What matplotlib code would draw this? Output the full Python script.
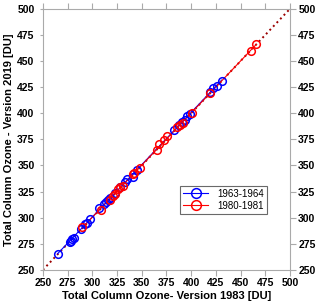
import numpy as np
import matplotlib.pyplot as plt

plt.rcParams['font.family'] = ['Liberation Sans', 'DejaVu Sans']

# 1963-1964 (blue): version 1983 vs version 2019
x_6364 = [265, 277, 278, 279, 281, 289, 293, 295, 298, 307, 312, 314, 316, 318, 323,
          328, 333, 335, 341, 345, 383, 388, 391, 394, 396, 399, 419, 422, 426, 431]
y_6364 = [265, 277, 278, 280, 281, 289, 294, 295, 299, 309, 313, 315, 317, 319, 324,
          329, 334, 337, 339, 346, 384, 389, 392, 394, 397, 399, 420, 424, 426, 431]

# 1980-1981 (red)
x_8081 = [290, 309, 318, 321, 323, 326, 328, 331, 341, 342, 348, 365, 368, 373, 376,
          386, 389, 392, 401, 419, 461, 466]
y_8081 = [291, 307, 317, 321, 323, 327, 329, 330, 342, 343, 348, 365, 371, 374, 378,
          387, 389, 391, 400, 419, 460, 466]

ticks = [250, 275, 300, 325, 350, 375, 400, 425, 450, 475, 500]

fig = plt.figure(figsize=(3.2, 3.06), dpi=100)
ax = fig.add_axes([0.134, 0.118, 0.772, 0.853])

# 1:1 line
ax.plot([250, 500], [250, 500], color='#9b0000', ls=':', lw=1.4, zorder=1)

for xs, ys, col, lab in [(x_6364, y_6364, 'blue', '1963-1964'),
                         (x_8081, y_8081, 'red', '1980-1981')]:
    xs = np.array(xs)
    ys = np.array(ys)
    k, b = np.polyfit(xs, ys, 1)
    xl = np.array([xs.min(), xs.max()])
    ax.plot(xl, k * xl + b, color=col, lw=0.8, zorder=2)
    ax.plot(xs, ys, 'o', mfc='none', mec=col, ms=5.5, mew=1.1, zorder=3)
    ax.plot([], [], color=col, marker='o', mfc='none', mec=col, ms=7, mew=1.1,
            lw=0.8, label=lab)

ax.set_xlim(250, 500)
ax.set_ylim(250, 500)
ax.set_xticks(ticks)
ax.set_yticks(ticks)

for s in ax.spines.values():
    s.set_color('#aaaaaa')
    s.set_linewidth(0.8)

ax.tick_params(axis='x', which='both', direction='out', top=True, bottom=True,
               length=4, color='#aaaaaa', labelsize=7.5, pad=2)
ax.tick_params(axis='y', which='both', direction='out', right=True,
               labelleft=True, labelright=True, length=4, color='#aaaaaa',
               labelsize=7.5, pad=2)
ax.yaxis.set_tick_params(which='major', left=True)
for t in ax.yaxis.get_major_ticks():
    t.tick1line.set_markersize(2)
for t in ax.get_xticklabels() + ax.get_yticklabels():
    t.set_fontweight('bold')

ax.set_xlabel('Total Column Ozone- Version 1983 [DU]', fontsize=8, fontweight='bold',
              labelpad=2)
ax.set_ylabel('Total Column Ozone - Version 2019 [DU]', fontsize=8, fontweight='bold',
              labelpad=2)

leg = ax.legend(loc='upper left', bbox_to_anchor=(0.555, 0.322), fontsize=7,
                frameon=True, fancybox=False, handlelength=2.6, borderpad=0.3,
                labelspacing=0.2, handletextpad=0.9, borderaxespad=0)
leg.get_frame().set_edgecolor('#444444')
leg.get_frame().set_linewidth(0.8)

fig.savefig('out.png', dpi=100)
